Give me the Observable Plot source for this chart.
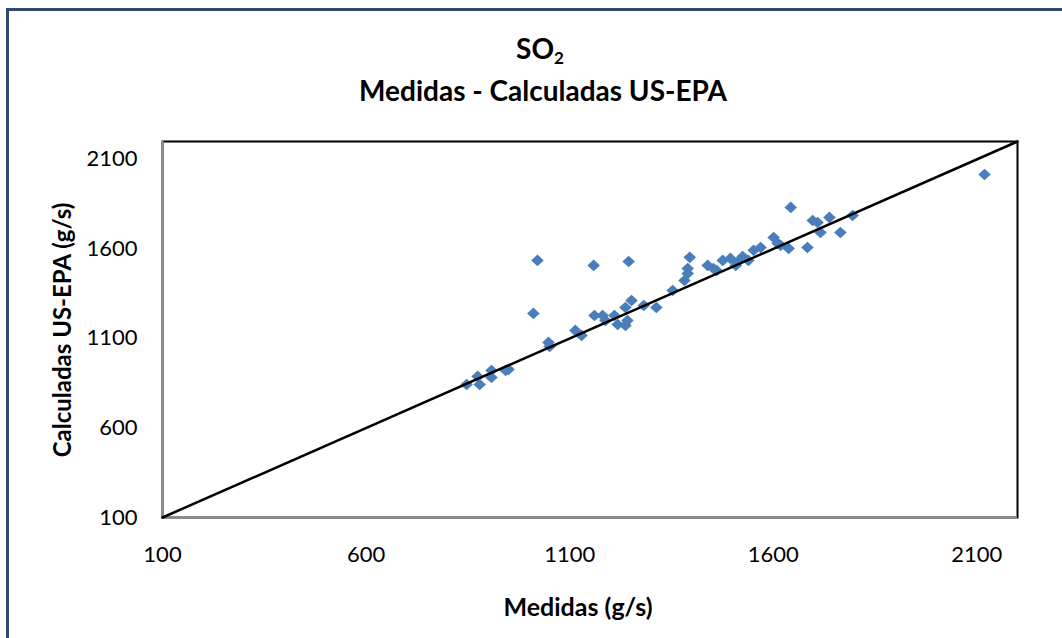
<!DOCTYPE html>
<html>
<head>
<meta charset="utf-8">
<script src="https://cdn.jsdelivr.net/npm/d3@7"></script>
<script src="https://cdn.jsdelivr.net/npm/@observablehq/plot@0.6"></script>
<style>
  html, body { margin: 0; padding: 0; background: #fff; }
  #wrap { position: relative; width: 1062px; height: 638px; overflow: hidden; font-family: Lato, "Open Sans", sans-serif; color: #000; }
  #border { position: absolute; left: 6px; top: 8px; width: 1200px; height: 800px; border-left: 3px solid #2f4b70; border-top: 3px solid #2f4b70; }
  .t { position: absolute; font-weight: bold; white-space: nowrap; line-height: 1; }
  #chart { position: absolute; left: 0; top: 0; }
</style>
</head>
<body>
<div id="wrap">
  <div id="border"></div>
  <div id="chart"></div>
  <div class="t" id="t1" style="left:0;width:1080px;text-align:center;top:34px;font-size:28px;">SO<sub style="font-size:17px;vertical-align:-5px;">2</sub></div>
  <div class="t" id="t2" style="left:0;width:1086px;text-align:center;top:76px;font-size:28px;">Medidas - Calculadas US-EPA</div>
  <div class="t" id="xl" style="left:0;width:1156px;text-align:center;top:594px;font-size:25px;">Medidas (g/s)</div>
  <div class="t" id="yl" style="left:62px;top:330px;font-size:24px;transform:translate(-50%,-50%) rotate(-90deg);">Calculadas US-EPA (g/s)</div>
</div>
<script>
const medidas = [847, 874, 879, 908, 908, 943, 950, 1011, 1021, 1048, 1051, 1114, 1129, 1159, 1161, 1181, 1188, 1210, 1218, 1237, 1242, 1237, 1245, 1252, 1282, 1313, 1353, 1382, 1390, 1390, 1395, 1439, 1453, 1461, 1476, 1495, 1508, 1512, 1525, 1539, 1552, 1569, 1601, 1611, 1618, 1638, 1643, 1684, 1697, 1709, 1716, 1738, 1765, 1795, 2119];
const calculadas = [843, 888, 843, 921, 882, 921, 927, 1240, 1536, 1078, 1055, 1145, 1117, 1508, 1228, 1228, 1200, 1228, 1178, 1173, 1200, 1273, 1530, 1312, 1284, 1273, 1368, 1424, 1463, 1491, 1553, 1508, 1491, 1480, 1536, 1547, 1508, 1525, 1558, 1536, 1592, 1608, 1664, 1631, 1620, 1603, 1832, 1608, 1759, 1748, 1692, 1776, 1692, 1787, 2016];
const lineX = [100, 2200];
const lineY = [100, 2200];
const ticks = [100, 600, 1100, 1600, 2100];

const points = medidas.map((m, i) => ({x: m, y: calculadas[i]}));
const diag = lineX.map((v, i) => ({x: v, y: lineY[i]}));

const diamond = {
  draw(ctx, size) {
    const a = 6.3, b = 5.8;
    ctx.moveTo(0, -b); ctx.lineTo(a, 0); ctx.lineTo(0, b); ctx.lineTo(-a, 0); ctx.closePath();
  }
};

const chart = Plot.plot({
  width: 1062,
  height: 638,
  marginLeft: 162,
  marginRight: 45,
  marginTop: 141,
  marginBottom: 121,
  style: {fontFamily: "Lato, 'Open Sans', sans-serif", fontSize: "22px", color: "#000", background: "transparent", overflow: "visible"},
  x: {domain: [100, 2200], ticks: ticks, tickSize: 0, tickPadding: 29, label: null, tickFormat: d => String(d)},
  y: {domain: [100, 2200], ticks: ticks, tickSize: 0, tickPadding: 25, label: null, tickFormat: d => String(d)},
  marks: [
    Plot.frame({stroke: "#000", strokeWidth: 2}),
    Plot.ruleX([100], {stroke: "#8c8c8c", strokeWidth: 2.5}),
    Plot.ruleY([100], {stroke: "#8c8c8c", strokeWidth: 2.5}),
    Plot.dot(points, {x: "x", y: "y", symbol: diamond, fill: "#4a7ebb", stroke: "none"}),
    Plot.line(diag, {x: "x", y: "y", stroke: "#000", strokeWidth: 2.5})
  ]
});
document.getElementById("chart").appendChild(chart);
</script>
</body>
</html>
